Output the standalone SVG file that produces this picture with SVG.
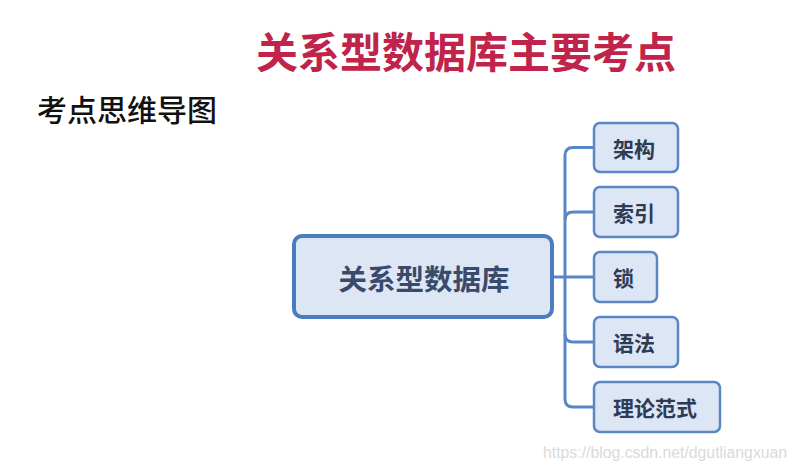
<svg xmlns="http://www.w3.org/2000/svg" width="797" height="468" viewBox="0 0 797 468">
<style>
.cjk{font-family:"Noto Sans CJK SC","Liberation Sans",sans-serif;font-weight:bold}
.child rect{fill:#DCE6F4;stroke:#5B86C5;stroke-width:2.5}
.child text{font-size:21px;fill:#2F3B55;text-anchor:start;dominant-baseline:central;font-weight:600}
.conn path{fill:none;stroke:#5B86C5;stroke-width:3}
</style>
<rect width="797" height="468" fill="#FFFFFF"/>
<text id="title" class="cjk" x="466" y="49" font-size="42" fill="#C0244A" text-anchor="middle" dominant-baseline="central">关系型数据库主要考点</text>
<text id="subtitle" class="cjk" x="37" y="108" font-size="30" fill="#111111" dominant-baseline="central" style="font-weight:500">考点思维导图</text>
<g class="conn" id="connectors">
<path d="M553 277 H565"/>
<path d="M594 147.5 H573 Q565 147.5 565 155.5 V399 Q565 407 573 407 H594"/>
<path d="M594 212 H573 Q565 212 565 220"/>
<path d="M594 277 H565"/>
<path d="M594 342 H573 Q565 342 565 334"/>
</g>
<g id="main">
<rect x="294" y="236" width="258" height="81" rx="8" fill="#DCE6F4" stroke="#4A7CC0" stroke-width="4"/>
<text class="cjk" x="424" y="277" font-size="28.5" fill="#3A4A6A" text-anchor="middle" dominant-baseline="central" style="font-weight:600">关系型数据库</text>
</g>
<g id="n1" class="child"><rect x="594" y="123" width="84" height="49" rx="6"/><text class="cjk" x="613" y="148">架构</text></g>
<g id="n2" class="child"><rect x="594" y="187" width="84" height="50" rx="6"/><text class="cjk" x="613" y="212">索引</text></g>
<g id="n3" class="child"><rect x="594" y="252" width="63" height="50" rx="6"/><text class="cjk" x="613" y="277">锁</text></g>
<g id="n4" class="child"><rect x="594" y="317" width="84" height="50" rx="6"/><text class="cjk" x="613" y="342">语法</text></g>
<g id="n5" class="child"><rect x="594" y="382" width="126" height="50" rx="6"/><text class="cjk" x="613" y="407">理论范式</text></g>
<text id="watermark" x="543" y="452" font-family="Liberation Sans, sans-serif" font-size="15.8" fill="#DADADA" dominant-baseline="central">https://blog.csdn.net/dgutliangxuan</text>
</svg>
